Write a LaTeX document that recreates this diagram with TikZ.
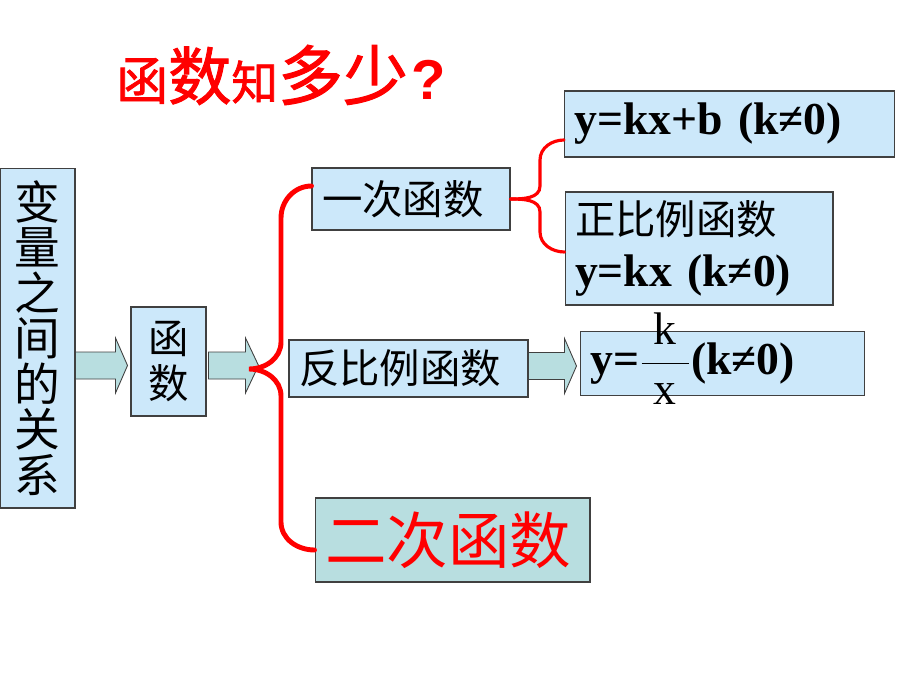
\documentclass[tikz,border=0pt]{standalone}
\usepackage{fontspec}
\setmainfont{Liberation Serif}
\newfontfamily\cjk{Noto Sans CJK SC}
\newfontfamily\cjkheavy{Noto Sans CJK SC}[FakeBold=1.5]
\newfontfamily\qmark{Liberation Sans}
\usetikzlibrary{calc}

\definecolor{boxblue}{HTML}{CCE8FA}
\definecolor{flowteal}{HTML}{B8DEE0}
\definecolor{boxline}{HTML}{404040}

\begin{document}
\begin{tikzpicture}[
	x          = 0.02cm,
	y          = -0.02cm,
	box/.style   = {draw=boxline, fill=boxblue, line width=0.6pt, align=left,
	                inner xsep=0.2cm, inner ysep=0pt},
	flow/.style  = {draw=boxline, fill=flowteal, line width=0.5pt},
	brace/.style = {draw=red, line width=2.8pt, line cap=round},
	cn/.style    = {font=\cjk\fontsize{23}{27}\selectfont},
	eq/.style    = {font=\bfseries\fontsize{26}{30}\selectfont}]
	\useasboundingbox (0,0) rectangle (920,690);

	% title
	\node[anchor=west, text=red, inner sep=0pt, font=\cjkheavy] (title) at (116,75)
	  {{\fontsize{29.5}{30}\selectfont 函}{\fontsize{36}{30}\selectfont 数}{\fontsize{26.5}{30}\selectfont 知}{\fontsize{37}{30}\selectfont 多}{\fontsize{37}{30}\selectfont 少}\hspace{2pt}{\qmark\bfseries\fontsize{32}{30}\selectfont ?}};

	% boxes
	\node[box, align=center, text width=1.5cm, inner xsep=0pt, minimum height=6.8cm,
	      font=\cjk\fontsize{26}{25.9}\selectfont] (rel) at (37.5,338) {变\\量\\之\\间\\的\\关\\系};
	\node[box, align=center, text width=1.5cm, inner xsep=0pt, minimum height=2.18cm,
	      font=\cjk\fontsize{23}{25.5}\selectfont] (fn) at (168.5,361.5) {函\\数};
	\node[box, cn, text width=3.56cm, minimum height=1.24cm] (lin) at (411,199) {一次函数};
	\node[box, eq, text width=6.2cm, minimum height=1.32cm] (lina) at (729.5,124) {y=kx+b (k≠0)};
	\node[box, text width=4.96cm, minimum height=2.26cm, font=\bfseries\fontsize{26}{29.5}\selectfont]
	      (prop) at (699,248.5) {{\cjk\mdseries\fontsize{23}{29.5}\selectfont 正比例函数}\\y=kx (k≠0)};
	\node[box, cn, text width=4.38cm, minimum height=1.14cm] (inv) at (408.5,368.5) {反比例函数};
	\node[box, eq, text width=5.28cm, minimum height=1.28cm] (invf) at (722.5,363.5)
	  {y=\smash{$\displaystyle\frac{\makebox[27pt]{\mdseries k}}{\mbox{\mdseries x}}$}(k≠0)};
	\node[box, fill=flowteal, text=red, text width=5.1cm, minimum height=1.68cm,
	      font=\cjk\fontsize{35}{40}\selectfont] (quad) at (452.5,540) {二次函数};

	% block arrows
	\draw[flow] ($(rel.east |- fn.west)+(0,4)$) -- ++(0,-13.5) -- ++(40,0) -- ++(0,-14)
	  -- ++(12,27.5) -- ++(-12,27.5) -- ++(0,-14) -- ++(-40,0) -- cycle;
	\draw[flow] ($(fn.east)+(2,4)$) -- ++(0,-13.5) -- ++(37,0) -- ++(0,-14)
	  -- ++(13,27.5) -- ++(-13,27.5) -- ++(0,-14) -- ++(-37,0) -- cycle;
	\draw[flow] ($(inv.east)+(0,-2.5)$) -- ++(0,-13.5) -- ++(36,0) -- ++(0,-14)
	  -- ++(12,27.5) -- ++(-12,27.5) -- ++(0,-14) -- ++(-36,0) -- cycle;

	% braces
	\coordinate (tip) at (249,369);
	\draw[brace] ([yshift=0.26cm]lin.west) to[out=180,in=90] (281,218) -- (281,342)
	  to[out=270,in=0] (tip) to[out=0,in=90] (281,396) -- (281,522)
	  to[out=270,in=180] ([yshift=-0.2cm]quad.west);
	\draw[brace, line width=1.8pt] (lin.east) to[out=0,in=270] (540,186) -- (540,160)
	  to[out=90,in=180] ([yshift=-0.32cm]lina.west);
	\draw[brace, line width=1.8pt] (lin.east) to[out=0,in=90] (540,212) -- (540,232)
	  to[out=270,in=180] ([yshift=-0.07cm]prop.west);
\end{tikzpicture}
\end{document}
